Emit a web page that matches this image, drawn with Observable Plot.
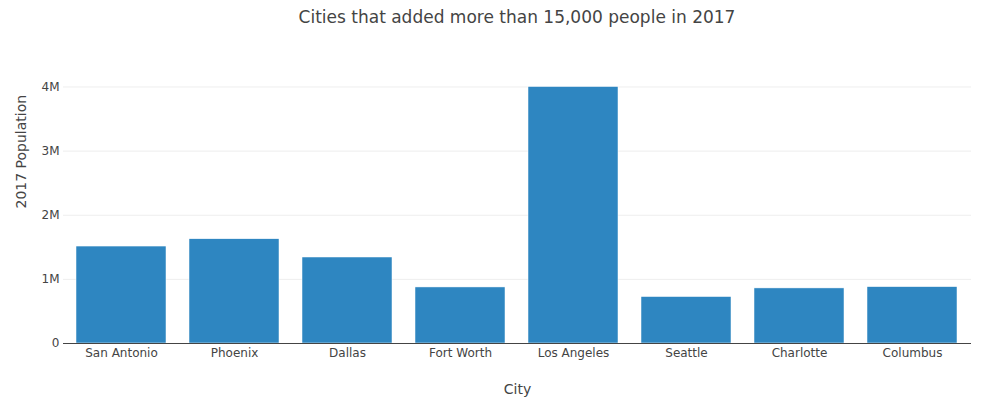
<!DOCTYPE html>
<html>
<head>
<meta charset="utf-8">
<script src="https://cdn.jsdelivr.net/npm/d3@7"></script>
<script src="https://cdn.jsdelivr.net/npm/@observablehq/plot@0.6"></script>
<style>
  html, body { margin: 0; padding: 0; background: #fff; }
  #wrap { position: relative; width: 981px; height: 404px; font-family: "DejaVu Sans", verdana, sans-serif; }
  #title { position: absolute; z-index: 2; top: 5px; left: 63px; width: 908px; text-align: center; font-size: 17px; color: #444; line-height: 24px; }
</style>
</head>
<body>
<div id="wrap">
  <div id="title">Cities that added more than 15,000 people in 2017</div>
</div>
<script>
const cities = ["San Antonio", "Phoenix", "Dallas", "Fort Worth", "Los Angeles", "Seattle", "Charlotte", "Columbus"];
const population = [1511946, 1626078, 1341075, 874168, 3999759, 724745, 859035, 879170];
const yTicks = [0, 1000000, 2000000, 3000000, 4000000];
const yTickLabels = ["0", "1M", "2M", "3M", "4M"];

const data = cities.map((c, i) => ({city: c, pop: population[i]}));

const chart = Plot.plot({
  width: 981,
  height: 404,
  marginTop: 73,
  marginBottom: 61,
  marginLeft: 63,
  marginRight: 10,
  style: {fontFamily: '"DejaVu Sans", verdana, sans-serif', fontSize: "12px", color: "#444", background: "transparent"},
  x: {domain: cities, paddingInner: 0.2, paddingOuter: 0.1, label: null},
  y: {domain: [0, 4210273], label: null},
  marks: [
    Plot.gridY(yTicks, {stroke: "#eee", strokeOpacity: 1}),
    Plot.barY(data, {x: "city", y: "pop", fill: "#2E86C1", stroke: "#fff", strokeWidth: 0.5}),
    Plot.ruleY([0], {stroke: "#444", strokeWidth: 1}),
    Plot.axisY(yTicks, {tickSize: 0, tickPadding: 4, tickFormat: (d) => yTickLabels[yTicks.indexOf(d)], label: null, fill: "#444", fontSize: 12}),
    Plot.axisX({tickSize: 0, tickPadding: 5, label: null, fill: "#444", fontSize: 12}),
    Plot.text(["2017 Population"], {frameAnchor: "left", rotate: -90, dx: -42, fontSize: 14, fill: "#444"}),
    Plot.text(["City"], {frameAnchor: "bottom", dy: 50, fontSize: 14, fill: "#444"})
  ]
});
chart.style.position = "absolute";
chart.style.top = "0";
chart.style.left = "0";
chart.style.zIndex = "1";
document.getElementById("wrap").appendChild(chart);
</script>
</body>
</html>
